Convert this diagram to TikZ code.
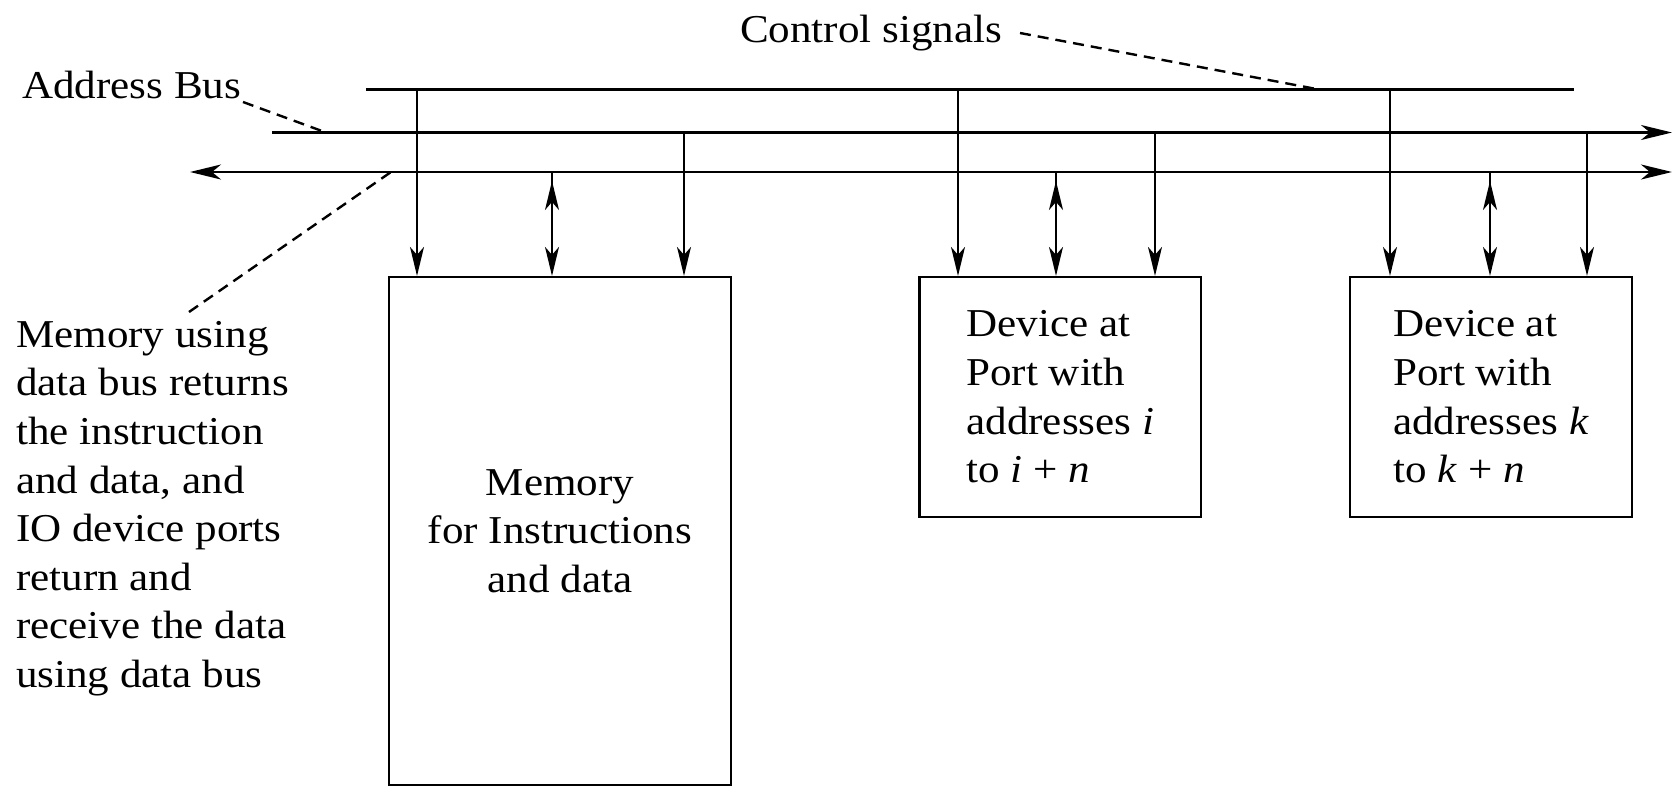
\documentclass[tikz,border=0pt]{standalone}
\usepackage{fontspec}
\setmainfont{Liberation Serif}[FakeStretch=1.09]
\usetikzlibrary{arrows.meta,decorations.markings}
\begin{document}
\begin{tikzpicture}[x=1pt,y=-1pt,
  tapTip/.tip={Stealth[length=29pt,width=14pt,inset=8pt]},
  busTip/.tip={Stealth[length=31pt,width=15pt,inset=9pt]},
  txt/.style={inner sep=0pt,font=\fontsize{39.5pt}{48.6pt}\selectfont},
  bus/.style={line width=2.6pt},
  tap/.style={line width=2pt,-tapTip},
  bidir/.style={line width=2pt,-tapTip,postaction={decorate},
    decoration={markings,mark=at position 9pt with {\arrowreversed{tapTip}}}},
  boxnode/.style={draw,line width=2.2pt,inner sep=0pt,
    font=\fontsize{39.5pt}{48.6pt}\selectfont},
  dashline/.style={line width=2.4pt,dash pattern=on 11pt off 7pt}]
\useasboundingbox (0,0) rectangle (1675,787);

% boxes
\node[boxnode,minimum width=342pt,minimum height=508pt,align=center] (mem) at (560,531)
  {Memory\\for Instructions\\and data};
\node[boxnode,minimum width=281.5pt,minimum height=240pt,align=left] (dev1) at (1060.25,397)
  {Device at\\Port with\\addresses \textit{i}\\to \textit{i} + \textit{n}};
\node[boxnode,minimum width=282pt,minimum height=240pt,align=left] (dev2) at (1491,397)
  {Device at\\Port with\\addresses \textit{k}\\to \textit{k} + \textit{n}};

% buses
\coordinate (cL) at (366,89.5);  \coordinate (cR) at (1574,89.5);
\coordinate (aL) at (272,132.5); \coordinate (aR) at (1672,132.5);
\coordinate (dL) at (190,172);   \coordinate (dR) at (1672,172);
\draw[bus] (cL) -- (cR);
\draw[bus,-busTip] (aL) -- (aR);
\draw[bus,busTip-busTip] (dL) -- (dR);

% taps
\coordinate (mc) at (417,89.5);  \coordinate (md) at (552,172);  \coordinate (ma) at (684,132.5);
\coordinate (ac) at (958,89.5);  \coordinate (ad) at (1056,172); \coordinate (aa) at (1155,132.5);
\coordinate (bc) at (1390,89.5); \coordinate (bd) at (1490,172); \coordinate (ba) at (1587,132.5);
\draw[tap] (mc) -- (mc |- mem.north);
\draw[bidir] (md) -- (md |- mem.north);
\draw[tap] (ma) -- (ma |- mem.north);
\draw[tap] (ac) -- (ac |- dev1.north);
\draw[bidir] (ad) -- (ad |- dev1.north);
\draw[tap] (aa) -- (aa |- dev1.north);
\draw[tap] (bc) -- (bc |- dev2.north);
\draw[bidir] (bd) -- (bd |- dev2.north);
\draw[tap] (ba) -- (ba |- dev2.north);

% labels
\node[txt,anchor=base west] (ab) at (22,98) {Address Bus};
\node[txt,anchor=base west] (cs) at (740,42) {Control signals};
\node[txt,anchor=north west,align=left] (note) at (16,321)
  {Memory using\\data bus returns\\the instruction\\and data, and\\IO device ports\\return and\\receive the data\\using data bus};

% dashed leaders
\coordinate (abS) at (243,102);  \coordinate (abE) at (326,132.5);
\coordinate (csS) at (1020,33);  \coordinate (csE) at (1319,89.5);
\coordinate (ntS) at (189,312);  \coordinate (ntE) at (391,172);
\draw[dashline] (abS) -- (abE);
\draw[dashline] (csS) -- (csE);
\draw[dashline] (ntS) -- (ntE);
\end{tikzpicture}
\end{document}
